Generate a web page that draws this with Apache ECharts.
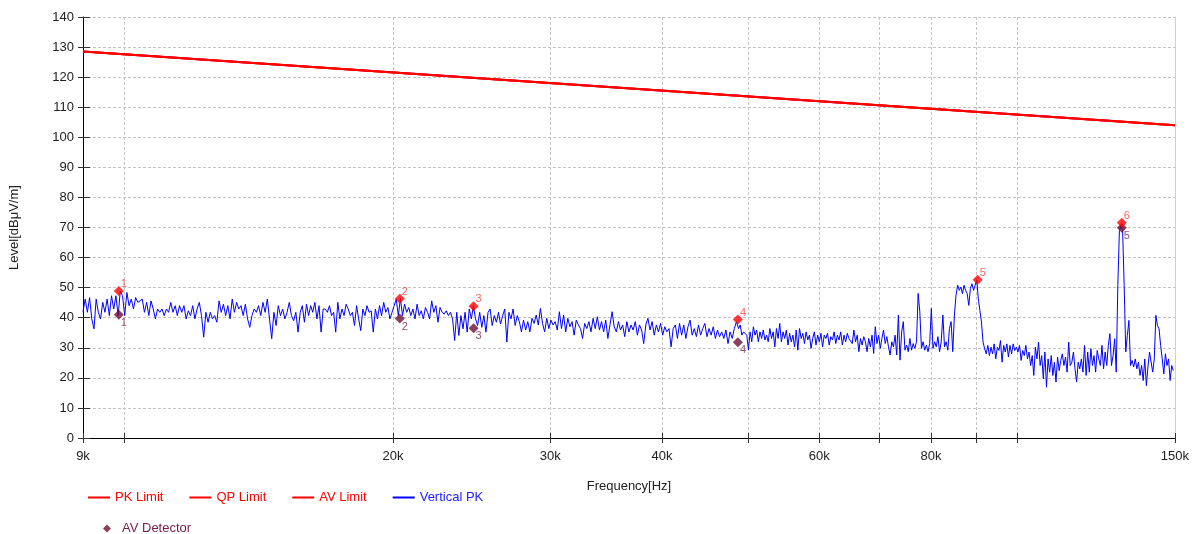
<!DOCTYPE html>
<html><head><meta charset="utf-8">
<script src="https://cdn.jsdelivr.net/npm/echarts@6/dist/echarts.min.js"></script>
<style>html,body{margin:0;padding:0;background:#fff}#c{width:1192px;height:534px}</style>
</head><body><div id="c"></div>
<script>
// ---- data ----
const tickFreqs = [9000, 10000, 20000, 30000, 40000, 50000, 60000, 70000, 80000, 90000, 100000, 150000];
const labelFreqs = [9000, 20000, 30000, 40000, 60000, 80000, 150000];
const limitFreq = [9000, 150000];
const limitLevel = [128.5, 104.0];
const pkFreq = [9870, 20360, 24620, 48650, 90230, 130830];
const pkLevel = [48.9, 46.3, 43.8, 39.4, 52.6, 71.6];
const avFreq = [9870, 20360, 24620, 48650, 130830];
const avLevel = [41.0, 39.7, 36.5, 31.8, 69.9];
// sweep segments (Hz) and the levels read inside each segment
const segEdges = [9000, 15752, 27702, 48732, 85710, 150000];
const traceSeg1 = [42.0, 46.2, 41.8, 46.7, 39.6, 36.3, 46.2, 41.8, 39.6, 45.1, 41.8, 46.2, 40.7, 47.3, 42.9, 47.3, 40.7, 48.9, 47.3, 40.7, 48.4, 44.0, 46.2, 42.9, 46.7, 45.1, 45.6, 46.2, 41.8, 45.1, 40.7, 45.6, 42.9, 39.6, 42.9, 41.8, 42.9, 40.7, 42.9, 41.8, 45.1, 41.8, 44.0, 40.7, 44.0, 41.8, 44.0, 39.6, 42.3, 40.7, 44.0, 39.6, 42.9, 45.1, 40.7, 33.5, 41.8, 38.5, 41.8, 39.6, 40.7, 38.5, 45.6, 41.8, 44.5, 40.7, 44.0, 39.6, 46.2, 41.8, 45.1, 42.9, 44.0, 40.7, 44.5, 39.6, 36.8, 40.7, 42.9, 41.8, 44.0, 40.7, 45.1, 41.8, 46.2, 39.6, 33.0, 41.8, 37.4, 44.0, 40.7, 42.9, 39.6, 41.8, 45.1, 40.7, 39.0, 41.8, 35.2];
const traceSeg2 = [41.8, 44.0, 38.5, 44.5, 40.7, 44.0, 41.8, 45.1, 39.6, 44.0, 35.2, 42.9, 42.9, 41.8, 44.0, 40.7, 41.8, 35.2, 45.1, 39.6, 42.9, 40.7, 44.5, 42.9, 40.7, 41.8, 37.4, 44.0, 39.6, 35.7, 42.9, 40.7, 44.0, 41.8, 42.3, 35.2, 42.9, 39.6, 44.0, 40.7, 45.1, 41.8, 43.4, 39.6, 41.8, 44.0, 46.2, 40.7, 46.4, 40.7, 44.5, 41.8, 43.4, 40.7, 42.9, 39.6, 44.5, 40.7, 42.3, 39.6, 43.4, 41.8, 39.6, 45.6, 41.8, 44.0, 38.5, 43.4, 41.8, 41.2, 42.3, 40.7, 41.8, 39.6, 32.4, 41.8, 34.1, 40.7, 36.3, 41.8, 35.2, 42.9, 39.6, 44.0, 39.6, 37.4, 41.8, 36.8, 40.7, 35.2, 41.8, 42.9, 37.4, 40.7, 38.5, 41.8, 37.9, 40.7, 42.9, 31.9, 41.8, 39.6, 42.9, 37.4, 40.7];
const traceSeg3 = [38.7, 35.3, 39.2, 35.9, 38.7, 35.3, 39.8, 38.1, 40.9, 37.6, 43.1, 38.1, 35.3, 39.8, 36.4, 39.2, 37.6, 38.7, 35.9, 42.0, 36.4, 40.9, 35.3, 39.8, 37.0, 38.7, 34.2, 39.2, 37.6, 36.4, 33.1, 38.1, 36.4, 38.7, 35.3, 39.8, 36.4, 40.3, 35.9, 38.7, 35.3, 39.2, 33.1, 37.6, 42.0, 37.0, 35.3, 38.7, 35.9, 37.6, 33.7, 38.7, 35.3, 37.6, 35.9, 38.7, 34.2, 37.6, 35.9, 31.4, 37.6, 39.8, 35.9, 38.7, 34.2, 37.6, 35.3, 38.1, 34.2, 37.0, 35.3, 36.4, 30.3, 36.4, 37.6, 33.1, 38.1, 34.2, 37.6, 33.1, 37.0, 39.2, 34.2, 36.4, 33.7, 37.6, 34.2, 36.4, 38.1, 33.7, 36.4, 34.2, 37.0, 33.1, 35.9, 33.7, 35.3, 33.1, 35.9, 31.4, 35.3, 33.1, 36.4, 38.7];
const traceSeg4 = [36.4, 37.6, 34.2, 35.3, 35.9, 34.2, 29.2, 35.3, 32.0, 37.0, 34.2, 35.9, 32.0, 35.3, 33.1, 35.9, 32.6, 34.2, 32.0, 36.4, 33.1, 35.3, 30.3, 36.4, 33.1, 38.1, 32.0, 35.3, 33.1, 35.9, 30.9, 34.8, 32.0, 34.2, 30.3, 35.9, 29.2, 36.4, 33.1, 34.8, 31.4, 35.3, 32.6, 34.2, 29.8, 33.1, 35.3, 30.9, 34.2, 32.0, 34.8, 30.3, 34.2, 33.1, 34.8, 30.9, 33.7, 32.6, 35.3, 31.4, 34.2, 32.6, 35.3, 30.9, 34.2, 32.0, 34.8, 33.1, 33.7, 31.4, 35.9, 32.0, 34.2, 28.7, 33.1, 30.9, 33.7, 32.0, 28.7, 33.1, 30.3, 34.2, 28.1, 37.0, 31.4, 34.2, 29.8, 33.1, 35.9, 31.4, 33.7, 30.3, 27.6, 32.0, 30.3, 34.2, 27.6, 40.9, 25.9, 35.3, 38.7, 29.2, 30.9, 28.7, 33.1, 29.2, 31.4, 29.8, 32.0, 48.1, 42.0, 29.8, 32.0, 29.2, 30.9, 28.7, 31.4, 43.1, 29.8, 32.0, 30.3, 33.7, 28.7, 32.0, 40.9, 30.3, 32.0, 29.2, 36.4, 38.7, 28.7, 40.9, 47.6];
const traceSeg5 = [50.8, 49.1, 50.2, 48.0, 50.8, 49.1, 48.0, 44.1, 49.7, 51.3, 49.1, 50.8, 52.6, 46.3, 42.4, 38.6, 31.9, 29.7, 28.0, 30.8, 27.4, 30.2, 28.0, 31.3, 26.3, 30.2, 29.1, 32.4, 25.2, 30.8, 28.6, 31.3, 26.9, 30.8, 28.0, 31.3, 29.1, 30.2, 28.6, 30.8, 25.8, 29.1, 27.4, 30.8, 26.3, 28.6, 24.1, 27.4, 20.8, 30.2, 26.3, 31.9, 24.1, 27.4, 19.7, 28.6, 16.9, 26.3, 21.9, 27.4, 20.8, 25.2, 18.6, 26.9, 22.4, 25.8, 28.0, 24.1, 26.9, 21.9, 31.9, 24.1, 25.2, 28.6, 23.0, 18.6, 25.2, 23.0, 26.3, 21.9, 30.8, 20.8, 28.6, 21.9, 29.7, 24.1, 27.4, 21.9, 29.1, 26.3, 24.1, 30.8, 23.0, 28.6, 24.1, 30.8, 34.7, 24.1, 27.4, 33.0, 21.9, 50.8, 69.0, 70.5, 69.3, 50.8, 28.6, 34.1, 39.1, 24.1, 25.8, 23.6, 26.3, 23.0, 25.2, 20.8, 24.1, 19.1, 26.3, 17.4, 23.6, 28.6, 29.1, 21.9, 26.3, 40.8, 37.4, 36.3, 30.8, 26.3, 21.3, 28.0, 24.1, 26.3, 19.1, 24.1, 22.4];

// ---- build ----
const L = Math.log10;
const xMin = L(9000), xMax = L(150000);
const fmt = v => Math.round(Math.pow(10, v) / 1000) + 'k';
const segs = [traceSeg1, traceSeg2, traceSeg3, traceSeg4, traceSeg5];
const trace = [];
segs.forEach((s, k) => {
  const a = L(segEdges[k]), b = L(segEdges[k + 1]);
  s.forEach((v, j) => trace.push([a + (b - a) * j / s.length, v]));
});
const limitData = limitFreq.map((f, i) => [L(f), limitLevel[i]]);
const pkData = pkFreq.map((f, i) => [L(f), pkLevel[i]]);
const avData = avFreq.map((f, i) => [L(f), avLevel[i]]);
const FONT = "'Liberation Sans', Arial, sans-serif";
const RED = '#ff0000', BLUE = '#0000ff', MAROON = '#6e0f35';
const grid = {type: [3, 2], color: '#c4c4c4', width: 1};

const chart = echarts.init(document.getElementById('c'), null, {renderer: 'canvas'});
chart.setOption({
  animation: false,
  backgroundColor: '#fff',
  textStyle: {fontFamily: FONT},
  grid: {left: 81, right: 15, top: 17, bottom: 96},
  legend: [
    {left: 83, top: 486, itemWidth: 22, itemHeight: 2, itemGap: 26, icon: 'rect',
     textStyle: {fontSize: 13, fontFamily: FONT},
     data: [{name: 'PK Limit', textStyle: {color: RED}}, {name: 'QP Limit', textStyle: {color: RED}},
            {name: 'AV Limit', textStyle: {color: RED}}, {name: 'Vertical PK', textStyle: {color: '#2020ff'}}]},
    {left: 98, top: 517, itemWidth: 8, itemHeight: 8, icon: 'diamond',
     textStyle: {fontSize: 13, fontFamily: FONT, padding: [0, 0, 0, 6]},
     data: [{name: 'AV Detector', textStyle: {color: '#7a1a4a', padding: [0, 0, 0, 6]}}]}
  ],
  xAxis: [
    {type: 'value', min: xMin, max: xMax, position: 'bottom',
     name: 'Frequency[Hz]', nameLocation: 'middle', nameGap: 42,
     nameTextStyle: {fontSize: 13, color: '#222', fontFamily: FONT},
     axisLine: {show: true, lineStyle: {color: '#000', width: 1}},
     axisTick: {show: true, customValues: tickFreqs.map(L), length: 5, lineStyle: {color: '#333'}},
     axisLabel: {show: true, customValues: labelFreqs.map(L), formatter: fmt, fontSize: 13, margin: 12, color: '#222', fontFamily: FONT},
     splitLine: {show: true, lineStyle: grid}},
    {type: 'value', min: xMin, max: xMax, position: 'bottom',
     axisLine: {show: false},
     axisTick: {show: true, inside: true, customValues: tickFreqs.map(L), length: 5, lineStyle: {color: '#333'}},
     axisLabel: {show: false}, splitLine: {show: false}}
  ],
  yAxis: [
    {type: 'value', min: 0, max: 140, interval: 10, position: 'left',
     name: 'Level[dBμV/m]', nameLocation: 'middle', nameGap: 62, nameRotate: 90,
     nameTextStyle: {fontSize: 13, color: '#222', fontFamily: FONT},
     axisLine: {show: true, lineStyle: {color: '#000', width: 1}},
     axisTick: {show: true, length: 5, lineStyle: {color: '#333'}},
     axisLabel: {fontSize: 13, margin: 9, color: '#222', fontFamily: FONT},
     splitLine: {show: true, lineStyle: grid}},
    {type: 'value', min: 0, max: 140, interval: 10, position: 'left',
     axisLine: {show: false},
     axisTick: {show: true, inside: true, length: 7, lineStyle: {color: '#333'}},
     axisLabel: {show: false}, splitLine: {show: false}},
    {type: 'value', min: 0, max: 140, interval: 10, position: 'right',
     axisLine: {show: true, lineStyle: {color: '#cfcfcf', width: 1}},
     axisTick: {show: false}, axisLabel: {show: false}, splitLine: {show: false}}
  ],
  series: [
    {name: 'PK Limit', type: 'line', data: limitData, showSymbol: false, symbol: 'none', color: RED, lineStyle: {color: RED, width: 2}, z: 3},
    {name: 'QP Limit', type: 'line', data: limitData, showSymbol: false, symbol: 'none', color: RED, lineStyle: {color: RED, width: 2}, z: 3},
    {name: 'AV Limit', type: 'line', data: limitData, showSymbol: false, symbol: 'none', color: RED, lineStyle: {color: RED, width: 2}, z: 3},
    {name: 'Vertical PK', type: 'line', data: trace, showSymbol: false, symbol: 'none', color: BLUE, lineStyle: {color: BLUE, width: 1}, z: 2},
    {name: 'PK Detector', type: 'scatter', data: pkData, symbol: 'diamond', symbolSize: 10, color: RED, itemStyle: {color: RED}, z: 5,
     label: {show: true, position: 'right', distance: 0, offset: [-3, -7], fontSize: 11, color: '#ff3b3b', fontFamily: FONT, formatter: p => String(p.dataIndex + 1)}},
    {name: 'AV Detector', type: 'scatter', data: avData, symbol: 'diamond', symbolSize: 10, color: MAROON, itemStyle: {color: MAROON}, z: 4,
     label: {show: true, position: 'right', distance: 0, offset: [-3, 8], fontSize: 11, color: '#7a1a4a', fontFamily: FONT, formatter: p => String(p.dataIndex + 1)}}
  ]
});
</script>
</body></html>
